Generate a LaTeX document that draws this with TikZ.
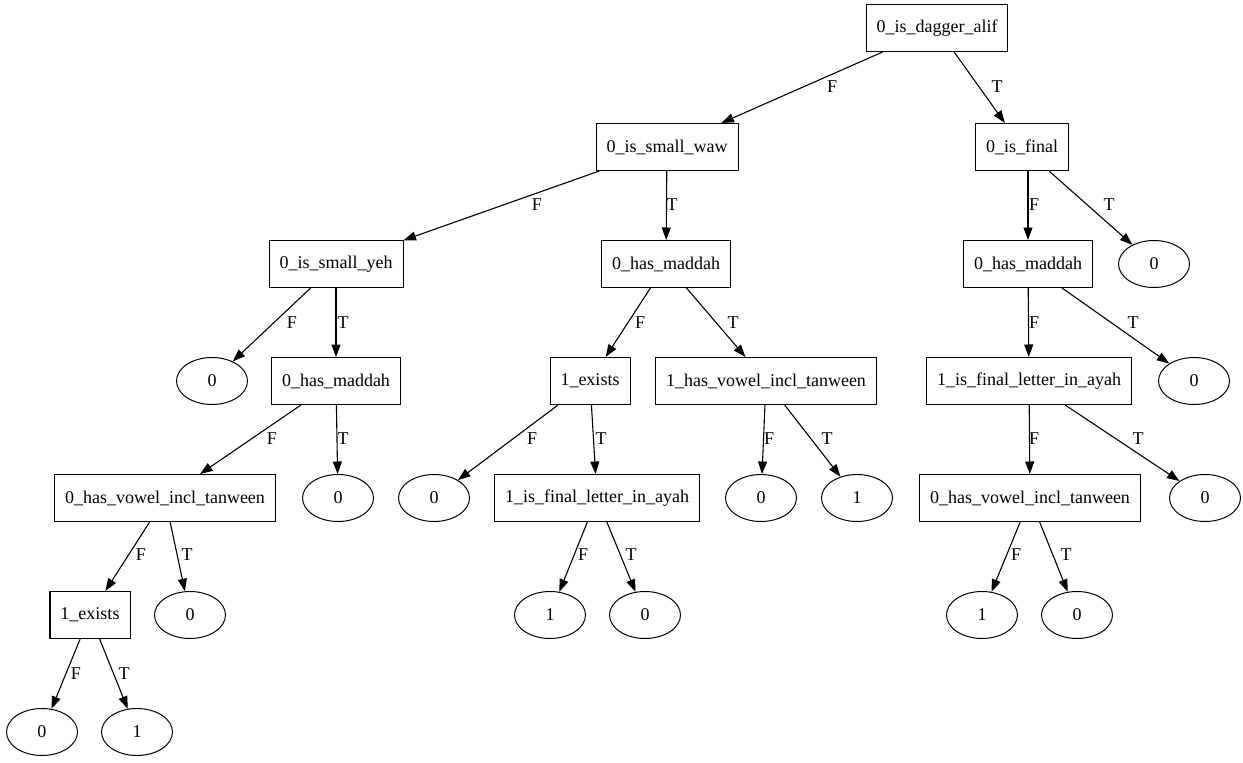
\documentclass[tikz,border=0pt]{standalone}
\usepackage{fontspec}
\setmainfont{Liberation Serif}
\usetikzlibrary{arrows.meta,shapes.geometric}
\begin{document}
\begin{tikzpicture}[x=1pt,y=-1pt,
  every node/.style={font=\fontsize{18}{20}\selectfont},
  test/.style={draw,line width=1pt,rectangle,minimum height=47pt,inner xsep=10.5pt,inner ysep=0pt},
  leaf/.style={draw,line width=1pt,ellipse,minimum width=71pt,minimum height=47pt,inner sep=0pt},
  edge/.style={draw,line width=1.1pt,-{Triangle[length=12.5pt,width=9pt]}},
  lbl/.style={inner sep=0pt}]
\useasboundingbox (0,0) rectangle (1243,763);
% nodes
\node[test] (root) at (937,28) {0\_is\_dagger\_alif};
\node[test] (waw) at (667,147) {0\_is\_small\_waw};
\node[test] (fin) at (1022,147) {0\_is\_final};
\node[test] (yeh) at (336,264) {0\_is\_small\_yeh};
\node[test] (madM) at (666,264) {0\_has\_maddah};
\node[test] (madR) at (1028,264) {0\_has\_maddah};
\node[leaf] (l1) at (1154,264) {0};
\node[leaf] (l2) at (212,381) {0};
\node[test] (madL) at (336,381) {0\_has\_maddah};
\node[test] (exM) at (590,381) {1\_exists};
\node[test] (hvM) at (766,381) {1\_has\_vowel\_incl\_tanween};
\node[test] (ifR) at (1029,381) {1\_is\_final\_letter\_in\_ayah};
\node[leaf] (l3) at (1194,381) {0};
\node[test] (hvL) at (165,498) {0\_has\_vowel\_incl\_tanween};
\node[leaf] (l4) at (338,498) {0};
\node[leaf] (l5) at (434,498) {0};
\node[test] (ifM) at (597,498) {1\_is\_final\_letter\_in\_ayah};
\node[leaf] (l6) at (761,498) {0};
\node[leaf] (l7) at (857,498) {1};
\node[test] (hvR) at (1030,498) {0\_has\_vowel\_incl\_tanween};
\node[leaf] (l8) at (1205,498) {0};
\node[test] (exL) at (90,615) {1\_exists};
\node[leaf] (l9) at (190,615) {0};
\node[leaf] (l10) at (550,615) {1};
\node[leaf] (l11) at (645,615) {0};
\node[leaf] (l12) at (982,615) {1};
\node[leaf] (l13) at (1077,615) {0};
\node[leaf] (l14) at (42,732) {0};
\node[leaf] (l15) at (137,732) {1};
% edges
\path[edge] (root) -- (waw);
\path[edge] (root) -- (fin);
\path[edge] (waw) -- (yeh);
\path[edge] (waw) -- (madM);
\path[edge] (fin.south -| madR.north) -- (madR);
\path[edge] (fin) -- (l1);
\path[edge] (yeh) -- (l2);
\path[edge] (yeh) -- (madL);
\path[edge] (madM) -- (exM);
\path[edge] (madM) -- (hvM);
\path[edge] (madR) -- (ifR);
\path[edge] (madR) -- (l3);
\path[edge] (madL) -- (hvL);
\path[edge] (madL) -- (l4);
\path[edge] (exM) -- (l5);
\path[edge] (exM) -- (ifM);
\path[edge] (hvM) -- (l6);
\path[edge] (hvM) -- (l7);
\path[edge] (ifR) -- (hvR);
\path[edge] (ifR) -- (l8);
\path[edge] (hvL) -- (exL);
\path[edge] (hvL) -- (l9);
\path[edge] (ifM) -- (l10);
\path[edge] (ifM) -- (l11);
\path[edge] (hvR) -- (l12);
\path[edge] (hvR) -- (l13);
\path[edge] (exL) -- (l14);
\path[edge] (exL) -- (l15);
% labels
\node[lbl] (t1) at (832,87) {F};
\node[lbl] (t2) at (997,87) {T};
\node[lbl] (t3) at (537,205) {F};
\node[lbl] (t4) at (672,205) {T};
\node[lbl] (t5) at (1034,205) {F};
\node[lbl] (t6) at (1109,205) {T};
\node[lbl] (t7) at (292,323) {F};
\node[lbl] (t8) at (343,323) {T};
\node[lbl] (t9) at (640,323) {F};
\node[lbl] (t10) at (733,323) {T};
\node[lbl] (t11) at (1034,323) {F};
\node[lbl] (t12) at (1133,323) {T};
\node[lbl] (t13) at (272,439) {F};
\node[lbl] (t14) at (343,439) {T};
\node[lbl] (t15) at (532,439) {F};
\node[lbl] (t16) at (601,439) {T};
\node[lbl] (t17) at (769,439) {F};
\node[lbl] (t18) at (827,439) {T};
\node[lbl] (t19) at (1034,439) {F};
\node[lbl] (t20) at (1138,439) {T};
\node[lbl] (t21) at (141,555) {F};
\node[lbl] (t22) at (187,555) {T};
\node[lbl] (t23) at (583,555) {F};
\node[lbl] (t24) at (631,555) {T};
\node[lbl] (t25) at (1016,555) {F};
\node[lbl] (t26) at (1066,555) {T};
\node[lbl] (t27) at (76,674) {F};
\node[lbl] (t28) at (124,674) {T};
\end{tikzpicture}
\end{document}
